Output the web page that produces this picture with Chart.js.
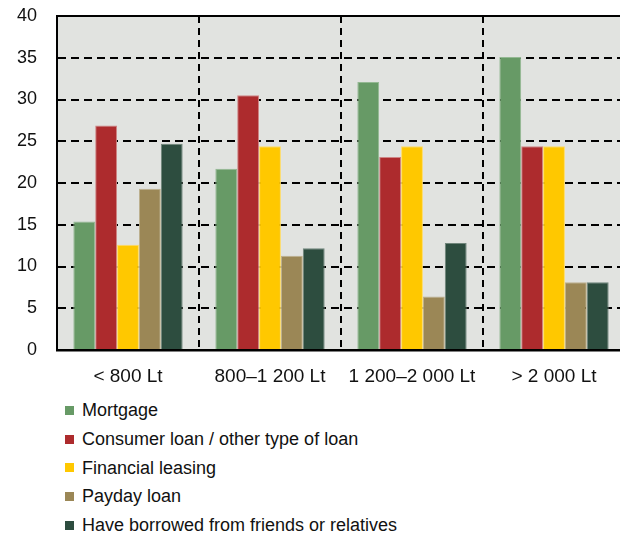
<!DOCTYPE html>
<html>
<head>
<meta charset="utf-8">
<script src="https://cdn.jsdelivr.net/npm/chart.js@4.4.0/dist/chart.umd.min.js"></script>
<style>
  html, body { margin: 0; padding: 0; background: #fff; overflow: hidden; width: 620px; height: 537px; }
  #wrap { position: relative; width: 626px; height: 396px; }
  #legend { list-style: none; margin: 0; padding: 0 0 0 65px; font-family: 'Liberation Sans', Arial, sans-serif; font-size: 18px; color: #111; }
  #legend li { height: 28.75px; line-height: 28.75px; display: flex; align-items: center; white-space: nowrap; }
  #legend .box { width: 9px; height: 9px; margin-right: 8px; flex: none; }
</style>
</head>
<body>
<div id="wrap"><canvas id="myChart"></canvas></div>
<ul id="legend"></ul>
<script>
// income groups
const categories = ['< 800 Lt', '800–1 200 Lt', '1 200–2 000 Lt', '> 2 000 Lt']

// share of borrowers, %
const mortgage = [15.4, 21.7, 32.1, 35.1]
const consumerLoan = [26.9, 30.5, 23.1, 24.4]
const leasing = [12.6, 24.4, 24.4, 24.4]
const paydayLoan = [19.3, 11.3, 6.4, 8.1]
const friends = [24.7, 12.2, 12.8, 8.1]

const seriesNames = [
  'Mortgage',
  'Consumer loan / other type of loan',
  'Financial leasing',
  'Payday loan',
  'Have borrowed from friends or relatives'
]
const yTicks = [0, 5, 10, 15, 20, 25, 30, 35, 40]

const fills   = ['#679a66', '#ad2b2d', '#ffc800', '#9b8756', '#2d4d3f']
const edges   = ['#93b892', '#cf8585', '#ffdc66', '#bdb08e', '#6f857a']

Chart.defaults.font.family = "'Liberation Sans', Arial, sans-serif"
Chart.defaults.color = '#111'

// grey plot background
const plotBg = {
  id: 'plotBg',
  beforeDraw(chart) {
    const a = chart.chartArea
    const ctx = chart.ctx
    ctx.save()
    ctx.fillStyle = '#e1e3e0'
    ctx.fillRect(a.left, a.top, a.right - a.left, a.bottom - a.top)
    ctx.restore()
  }
}

const values = [mortgage, consumerLoan, leasing, paydayLoan, friends]

const ctx = document.getElementById('myChart').getContext('2d')
const chart = new Chart(ctx, {
  type: 'bar',
  data: {
    labels: categories,
    datasets: values.map((v, i) => ({
      label: seriesNames[i],
      data: v,
      backgroundColor: fills[i],
      borderColor: edges[i],
      borderWidth: 1,
      categoryPercentage: 0.77,
      barPercentage: 1
    }))
  },
  options: {
    responsive: true,
    maintainAspectRatio: false,
    animation: false,
    layout: { padding: { top: 16, left: 0, right: 1, bottom: 0 } },
    plugins: {
      legend: { display: false },
      tooltip: { enabled: false }
    },
    scales: {
      x: {
        grid: { offset: true, color: '#000', lineWidth: 2, drawTicks: false },
        border: { display: true, color: '#000', width: 2.5, dash: [7, 5] },
        ticks: { font: { size: 19 }, padding: 15, color: '#111' },
        afterFit: s => { s.height = 46; s.paddingLeft = 0; s.paddingRight = 0 }
      },
      xTop: {
        type: 'category',
        position: 'top',
        labels: categories,
        grid: { display: false, drawTicks: false },
        border: { display: true, color: '#000', width: 2 },
        ticks: { display: false },
        afterFit: s => { s.height = 0; s.paddingLeft = 0; s.paddingRight = 0 }
      },
      y: {
        min: 0,
        max: 40,
        afterBuildTicks: s => { s.ticks = yTicks.map(v => ({ value: v })) },
        grid: { color: '#000', lineWidth: 2, drawTicks: false },
        border: { display: true, color: '#000', width: 2, dash: [8, 5] },
        ticks: { font: { size: 18 }, padding: 20, color: '#111' },
        afterFit: s => { s.width = 57; s.paddingTop = 0; s.paddingBottom = 0 }
      }
    }
  },
  plugins: [plotBg]
})

// legend, one entry per line
const legend = document.getElementById('legend')
chart.data.datasets.forEach(ds => {
  const li = document.createElement('li')
  const box = document.createElement('span')
  box.className = 'box'
  box.style.background = ds.backgroundColor
  li.appendChild(box)
  li.appendChild(document.createTextNode(ds.label))
  legend.appendChild(li)
})
</script>
</body>
</html>
